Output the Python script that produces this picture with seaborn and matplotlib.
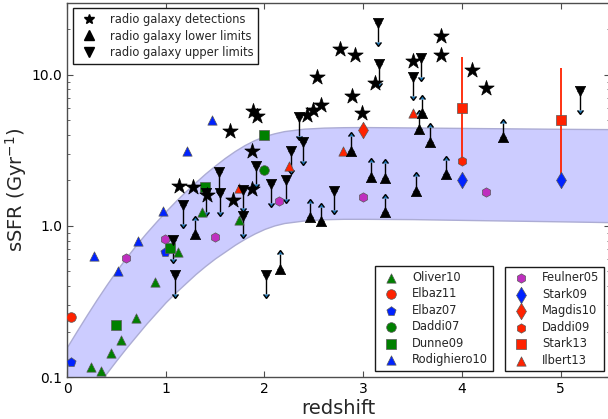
import numpy as np
import matplotlib
matplotlib.use("Agg")
import matplotlib.pyplot as plt
from matplotlib.lines import Line2D
import seaborn as sns
from matplotlib.ticker import FixedLocator, FixedFormatter, LogLocator, NullFormatter

# ---------------- data ----------------
# main-sequence band (edges)
band_z = [0.0, 0.1, 0.2, 0.3, 0.4, 0.5, 0.6, 0.7, 0.8, 0.9, 1.0, 1.1, 1.2, 1.3, 1.4, 1.5, 1.6, 1.7,
          1.8, 1.9, 2.0, 2.1, 2.2, 2.4, 2.6, 2.8, 3.0, 3.5, 4.0, 4.5, 5.0, 5.5]
band_hi = [0.158, 0.202, 0.257, 0.325, 0.407, 0.505, 0.618, 0.748, 0.895, 1.06, 1.25, 1.46, 1.69,
           1.94, 2.22, 2.51, 2.82, 3.13, 3.43, 3.70, 3.93, 4.10, 4.24, 4.40, 4.47, 4.50, 4.51,
           4.48, 4.45, 4.42, 4.39, 4.37]
band_lo = [0.047, 0.0575, 0.0708, 0.0871, 0.106, 0.129, 0.156, 0.187, 0.224, 0.265, 0.313, 0.363,
           0.417, 0.479, 0.543, 0.610, 0.676, 0.750, 0.822, 0.891, 0.955, 1.007, 1.045, 1.086,
           1.107, 1.114, 1.114, 1.109, 1.096, 1.084, 1.072, 1.059]

# radio galaxies
det_z = [1.13, 1.275, 1.417, 1.677, 1.647, 1.869, 1.876, 1.886, 1.92, 2.426, 2.493, 2.571, 2.533,
         2.763, 2.92, 2.89, 2.99, 3.124, 3.505, 3.785, 3.79, 4.106, 4.248]
det_y = [1.85, 1.80, 1.59, 1.49, 4.27, 1.76, 3.12, 5.73, 5.37, 5.42, 5.85, 6.34, 9.6,
         14.8, 13.5, 7.26, 5.56, 8.77, 12.4, 18.0, 13.6, 10.8, 8.2]
low_z = [1.30, 2.156, 2.466, 2.571, 2.877, 3.084, 3.219, 3.216, 3.533, 3.566, 3.595, 3.674, 3.843, 4.416]
low_y = [0.88, 0.52, 1.14, 1.07, 3.13, 2.11, 2.08, 1.23, 1.70, 4.37, 5.56, 3.60, 2.19, 3.86]
upp_z = [1.096, 1.073, 1.17, 1.41, 1.535, 1.55, 1.778, 1.78, 1.91, 2.014, 2.062, 2.217, 2.264,
         2.351, 2.392, 2.706, 3.151, 3.161, 3.505, 3.59, 5.2]
upp_y = [0.47, 0.81, 1.37, 1.65, 2.27, 1.66, 1.17, 1.74, 2.51, 0.47, 1.88, 2.0, 3.12,
         5.22, 3.57, 1.70, 21.9, 11.7, 9.6, 12.9, 7.77]

# literature samples
oliver10_z = [0.243, 0.344, 0.445, 0.547, 0.698, 0.894, 1.12, 1.366, 1.747]
oliver10_y = [0.117, 0.110, 0.145, 0.177, 0.244, 0.426, 0.67, 1.23, 1.10]
elbaz11_z = [0.044]
elbaz11_y = [0.25]
elbaz07_z = [0.044, 0.99]
elbaz07_y = [0.126, 0.67]
daddi07_z = [1.994]
daddi07_y = [2.36]
dunne09_z = [0.496, 1.046, 1.40, 1.997]
dunne09_y = [0.22, 0.71, 1.80, 4.0]
rodighiero10_z = [0.27, 0.513, 0.715, 0.968, 1.215, 1.468]
rodighiero10_y = [0.63, 0.50, 0.79, 1.25, 3.15, 5.0]
feulner05_z = [0.597, 0.989, 1.495, 2.149, 3.0, 4.248]
feulner05_y = [0.61, 0.82, 0.85, 1.46, 1.55, 1.67]
stark09_z = [4.0, 5.0]
stark09_y = [2.0, 2.0]
magdis10_z = [3.0]
magdis10_y = [4.3]
daddi09_z = [4.0]
daddi09_y = [2.68]
stark13_z = [4.0, 5.0]
stark13_y = [6.0, 5.0]
stark13_lo = [2.8, 2.0]
stark13_hi = [13.2, 11.1]
ilbert13_z = [1.744, 2.25, 2.797, 3.5]
ilbert13_y = [1.78, 2.48, 3.12, 5.56]

ytick_vals = [0.1, 1.0, 10.0]
ytick_labels = ["0.1", "1.0", "10.0"]
xtick_vals = [0, 1, 2, 3, 4, 5]

# ---------------- style ----------------
sns.set_style("ticks")
plt.rcParams["font.family"] = ["DejaVu Sans"]
plt.rcParams["mathtext.default"] = "regular"
plt.rcParams.update({
    "xtick.direction": "in", "ytick.direction": "in",
    "xtick.top": True, "ytick.right": True,
    "xtick.major.size": 4, "ytick.major.size": 4,
    "xtick.minor.size": 2, "ytick.minor.size": 2,
    "axes.edgecolor": "0.3", "xtick.color": "0.3", "ytick.color": "0.3",
    "xtick.labelcolor": "black", "ytick.labelcolor": "black",
    "axes.linewidth": 1.0,
})

fig = plt.figure(figsize=(6.08, 4.19), dpi=100)
ax = fig.add_axes([67 / 608, 42 / 419, 543 / 608, 374.3 / 419])

ax.fill_between(band_z, band_lo, band_hi, facecolor="#ccccff", edgecolor="#acacd4", lw=1.0, zorder=1)

edge = "0.35"
colmap = {"g": "#008000", "r": "#ff2200", "b": "#0022ff", "m": "#bf2fbf"}
lit = [
    ("Oliver10", oliver10_z, oliver10_y, "^", "g", 45),
    ("Elbaz11", elbaz11_z, elbaz11_y, "o", "r", 48),
    ("Elbaz07", elbaz07_z, elbaz07_y, "p", "b", 48),
    ("Daddi07", daddi07_z, daddi07_y, "o", "g", 48),
    ("Dunne09", dunne09_z, dunne09_y, "s", "g", 45),
    ("Rodighiero10", rodighiero10_z, rodighiero10_y, "^", "b", 45),
    ("Feulner05", feulner05_z, feulner05_y, "h", "m", 45),
    ("Stark09", stark09_z, stark09_y, "d", "b", 70),
    ("Magdis10", magdis10_z, magdis10_y, "d", "r", 70),
    ("Daddi09", daddi09_z, daddi09_y, "h", "r", 45),
    ("Stark13", stark13_z, stark13_y, "s", "r", 52),
    ("Ilbert13", ilbert13_z, ilbert13_y, "^", "r", 45),
]

# Stark13 error bars
s13 = np.array(stark13_y)
ax.errorbar(stark13_z, stark13_y, yerr=[s13 - np.array(stark13_lo), np.array(stark13_hi) - s13],
            fmt="none", ecolor="#ff2200", elinewidth=1.3, capsize=0, zorder=2)

# limit arrows
ly = np.array(low_y)
ax.errorbar(low_z, low_y, yerr=0.25 * ly, lolims=True, fmt="none", ecolor="k",
            elinewidth=1.0, capsize=2, zorder=2)
uy = np.array(upp_y)
ax.errorbar(upp_z, upp_y, yerr=0.25 * uy, uplims=True, fmt="none", ecolor="k",
            elinewidth=1.0, capsize=2, zorder=2)

handles = {}
for name, zz, yy, mk, c, s in lit:
    n0 = len(ax.collections)
    sns.scatterplot(x=zz, y=yy, marker=mk, color=colmap[c], s=s, edgecolor=edge,
                    linewidth=0.5, ax=ax, zorder=4)
    handles[name] = ax.collections[n0]

for zz, yy, mk, s in [(det_z, det_y, "*", 135), (low_z, low_y, "^", 55), (upp_z, upp_y, "v", 55)]:
    sns.scatterplot(x=zz, y=yy, marker=mk, color="k", s=s, edgecolor="k",
                    linewidth=0.5, ax=ax, zorder=5)

ax.set_yscale("log")
ax.set_xlim(0, 5.5)
ax.set_ylim(0.1, 30)
ax.yaxis.set_major_locator(FixedLocator(ytick_vals))
ax.yaxis.set_major_formatter(FixedFormatter(ytick_labels))
ax.yaxis.set_minor_locator(LogLocator(base=10, subs=np.arange(2, 10)))
ax.yaxis.set_minor_formatter(NullFormatter())
ax.xaxis.set_major_locator(FixedLocator(xtick_vals))
ax.tick_params(labelsize=10)
for sp in ax.spines.values():
    sp.set_visible(True)

ax.set_xlabel("redshift", fontsize=14, labelpad=2)
ax.set_ylabel("sSFR (Gyr$^{-1}$)", fontsize=14, labelpad=2)

legkw = dict(fontsize=8.3, scatterpoints=1, numpoints=1, fancybox=False, framealpha=1,
             edgecolor="0.1", labelspacing=0.3)
names1 = ["radio galaxy detections", "radio galaxy lower limits", "radio galaxy upper limits"]
proxies = [Line2D([], [], ls="none", marker="*", ms=7.5, color="k"),
           Line2D([], [], ls="none", marker="^", ms=6.5, color="k"),
           Line2D([], [], ls="none", marker="v", ms=6.5, color="k")]
leg1 = ax.legend(proxies, names1, loc="upper left", **legkw)
leg1.get_frame().set_linewidth(1.0)
ax.add_artist(leg1)
names2 = ["Oliver10", "Elbaz11", "Elbaz07", "Daddi07", "Dunne09", "Rodighiero10"]
leg2 = ax.legend([handles[n] for n in names2], names2, loc="lower left",
                 bbox_to_anchor=(0.5678, 0.0168), borderaxespad=0, **legkw)
leg2.get_frame().set_linewidth(1.0)
ax.add_artist(leg2)
names3 = ["Feulner05", "Stark09", "Magdis10", "Daddi09", "Stark13", "Ilbert13"]
leg3 = ax.legend([handles[n] for n in names3], names3, loc="lower right", **legkw)
leg3.get_frame().set_linewidth(1.0)

fig.savefig("out.png", dpi=100)
